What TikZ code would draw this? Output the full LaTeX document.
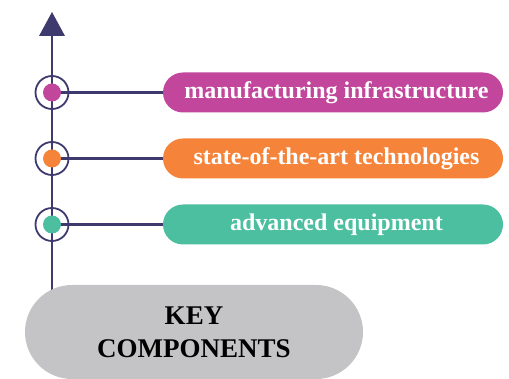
\documentclass[tikz,border=0pt]{standalone}
\usepackage{fontspec}
\setmainfont{Liberation Serif}
\begin{document}
\begin{tikzpicture}[x=1pt,y=-1pt]
\definecolor{axis}{HTML}{3F3A6E}
\definecolor{cmag}{HTML}{C2479C}
\definecolor{corg}{HTML}{F5843A}
\definecolor{cgrn}{HTML}{4BBFA0}
\definecolor{cgry}{HTML}{C4C4C6}
\tikzset{
  pillbox/.style={minimum width=340pt, minimum height=40pt, rounded corners=20pt, text=white,
    font=\bfseries\fontsize{24}{28}\selectfont, inner sep=0pt},
  ringnode/.style={draw=axis, line width=1.8pt, circle, minimum size=33pt, inner sep=0pt},
  dotnode/.style={circle, minimum size=18pt, inner sep=0pt},
  conn/.style={draw=axis, line width=2.4pt}
}
\useasboundingbox (0,0) rectangle (509,379);
% axis
\coordinate (top) at (52,35);
\coordinate (bot) at (52,300);
\draw[conn] (bot) -- (top);
\fill[axis] (52,12) -- (39,36) -- (65,36) -- cycle;
% pills
\node[pillbox, fill=cmag] (p1) at (333,92.5) {\hspace*{7pt}manufacturing infrastructure};
\node[pillbox, fill=corg] (p2) at (333,158.5) {\hspace*{7pt}state-of-the-art technologies};
\node[pillbox, fill=cgrn] (p3) at (333,224.5) {\hspace*{7pt}advanced equipment};
% rings and dots
\foreach \i/\y/\cc in {1/92.5/cmag,2/158.5/corg,3/224.5/cgrn}{
  \node[ringnode] (r\i) at (52,\y) {};
  \coordinate (c\i) at (52,\y);
  \draw[conn] (c\i) -- (p\i.west);
  \node[dotnode, fill=\cc] (d\i) at (c\i) {};
}
% key components
\node[fill=cgry, minimum width=338pt, minimum height=94pt, rounded corners=47pt,
  font=\bfseries\fontsize{27}{33}\selectfont, align=center, inner sep=0pt] (key) at (194,332) {KEY\\COMPONENTS};
\end{tikzpicture}
\end{document}
